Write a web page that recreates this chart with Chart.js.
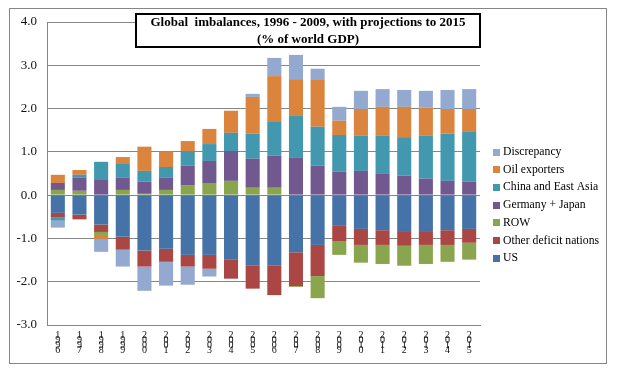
<!DOCTYPE html>
<html>
<head>
<meta charset="utf-8">
<script src="https://cdn.jsdelivr.net/npm/chart.js@4"></script>
<style>
html,body{margin:0;padding:0;background:#fff;}
#wrap{width:626px;height:380px;position:relative;}
</style>
</head>
<body>
<div id="wrap"><canvas id="c" width="626" height="380"></canvas></div>
<script>
const years = ['1996','1997','1998','1999','2000','2001','2002','2003','2004','2005','2006','2007','2008','2009','2010','2011','2012','2013','2014','2015'];
const yTicks = [-3,-2,-1,0,1,2,3,4];

const us       = [-0.41,-0.45,-0.68,-0.96,-1.28,-1.24,-1.38,-1.38,-1.49,-1.63,-1.63,-1.32,-1.15,-0.71,-0.78,-0.81,-0.83,-0.83,-0.81,-0.78];
const otherDef = [-0.11,-0.11,-0.17,-0.30,-0.37,-0.30,-0.27,-0.32,-0.44,-0.53,-0.68,-0.78,-0.72,-0.35,-0.37,-0.34,-0.34,-0.32,-0.34,-0.32];
const row      = [0.12,0.10,-0.07,0.12,0.03,0.12,0.22,0.28,0.33,0.17,0.17,-0.02,-0.51,-0.32,-0.41,-0.44,-0.46,-0.44,-0.39,-0.39];
const gerJap   = [0.16,0.31,0.35,0.28,0.28,0.28,0.46,0.51,0.69,0.67,0.74,0.86,0.68,0.54,0.56,0.49,0.45,0.38,0.33,0.31];
const china    = [-0.07,0.06,0.42,0.32,0.25,0.25,0.34,0.39,0.42,0.58,0.78,0.97,0.90,0.85,0.81,0.88,0.89,0.99,1.09,1.15];
const oil      = [0.19,0.11,-0.09,0.16,0.56,0.36,0.23,0.35,0.51,0.85,1.06,0.85,1.08,0.33,0.62,0.67,0.70,0.65,0.57,0.53];
const discrep  = [-0.16,0,-0.30,-0.39,-0.56,-0.55,-0.42,-0.18,0,0.07,0.42,0.56,0.26,0.32,0.42,0.41,0.39,0.39,0.44,0.46];

const seriesNames = ['US','Other deficit nations','ROW','Germany + Japan','China and East Asia','Oil exporters','Discrepancy'];
const seriesColors = ['#4572A7','#AA4643','#89A54E','#71588F','#4198AF','#DB843D','#93A9CF'];
const seriesData = [us, otherDef, row, gerJap, china, oil, discrep];

const titleLines = ['Global  imbalances, 1996 - 2009, with projections to 2015','(% of world GDP)'];

const SERIF = '"Liberation Serif","Times New Roman",serif';

const decor = {
  id: 'decor',
  beforeDraw(chart){
    const ctx = chart.ctx;
    ctx.save();
    ctx.fillStyle = '#fff';
    ctx.fillRect(0,0,chart.width,chart.height);
    ctx.strokeStyle = '#868686';
    ctx.lineWidth = 1;
    ctx.strokeRect(9.5,8.5,597,355);
    ctx.restore();
  },
  afterDraw(chart){
    const ctx = chart.ctx;
    ctx.save();
    // title box
    ctx.fillStyle = '#fff';
    ctx.fillRect(135,13,346,35);
    ctx.strokeStyle = '#000';
    ctx.lineWidth = 2;
    ctx.strokeRect(136,14,344,33);
    ctx.fillStyle = '#000';
    ctx.font = 'bold 13px ' + SERIF;
    ctx.textAlign = 'center';
    ctx.textBaseline = 'middle';
    ctx.fillText(titleLines[0], 308, 23);
    ctx.fillText(titleLines[1], 308, 39.5);
    // legend (reverse order)
    ctx.font = '11.7px ' + SERIF;
    ctx.textAlign = 'left';
    const ds = chart.data.datasets;
    let k = 0;
    for (let i = ds.length - 1; i >= 0; i--) {
      const y = 152 + k * 17.7;
      ctx.fillStyle = ds[i].backgroundColor;
      ctx.fillRect(493, Math.round(y - 3.5), 7, 7);
      ctx.fillStyle = '#000';
      ctx.fillText(ds[i].label, 503, y);
      k++;
    }
    ctx.restore();
  }
};

new Chart(document.getElementById('c'), {
  type: 'bar',
  data: {
    labels: years.map(y => y.split('')),
    datasets: seriesNames.map((n, i) => ({
      label: n,
      data: seriesData[i],
      backgroundColor: seriesColors[i],
      borderWidth: 0,
      barPercentage: 0.65,
      categoryPercentage: 1.0
    }))
  },
  options: {
    responsive: false,
    animation: false,
    events: [],
    layout: { padding: { left: 0, right: 146, top: 22, bottom: 0 } },
    plugins: { legend: { display: false }, title: { display: false }, tooltip: { enabled: false } },
    scales: {
      x: {
        stacked: true,
        grid: { display: false },
        border: { display: true, color: '#868686', width: 1 },
        ticks: {
          autoSkip: false, maxRotation: 0, minRotation: 0, padding: 0,
          color: '#111',
          font: { family: SERIF, size: 10, lineHeight: 0.5 }
        },
        afterFit(s){ s.height = 55; }
      },
      y: {
        stacked: true,
        min: -3, max: 4,
        afterBuildTicks(s){ s.ticks = yTicks.map(v => ({ value: v })); },
        ticks: {
          callback: v => Number(v).toFixed(1),
          color: '#111',
          padding: 10,
          font: { family: SERIF, size: 13 }
        },
        grid: { color: '#868686', lineWidth: 1, drawTicks: false },
        border: { display: true, color: '#868686', width: 1 },
        afterFit(s){ s.width = 47; }
      }
    }
  },
  plugins: [decor]
});
</script>
</body>
</html>
